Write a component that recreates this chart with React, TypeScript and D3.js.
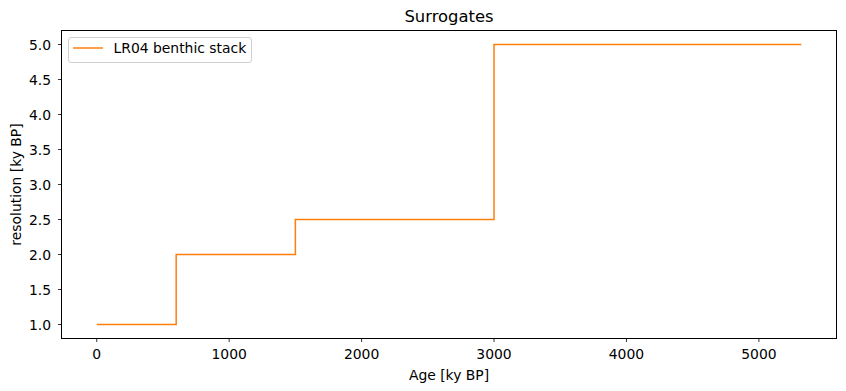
import React from "react";
import * as d3 from "d3";

const stepAges = [0, 600, 1500, 3000, 5320];
const stepResolution = [1.0, 2.0, 2.5, 5.0, 5.0];
const xTicks = [0, 1000, 2000, 3000, 4000, 5000];
const yTicks = [1.0, 1.5, 2.0, 2.5, 3.0, 3.5, 4.0, 4.5, 5.0];
const seriesName = "LR04 benthic stack";
const title = "Surrogates";
const xLabel = "Age [ky BP]";
const yLabel = "resolution [ky BP]";

const W = 846, H = 391;
const L = 61.5, R = 836.5, T = 30.5, B = 338.5;
const FONT = "DejaVu Sans, sans-serif";
const FS = 13.9;

export default function App() {
  const x = d3.scaleLinear().domain([-266, 5586]).range([L, R]);
  const y = d3.scaleLinear().domain([0.8, 5.2]).range([B, T]);
  const pts: [number, number][] = stepAges.map((a, i) => [a, stepResolution[i]]);
  const line = d3.line<[number, number]>().x(d => x(d[0])).y(d => y(d[1])).curve(d3.curveStepAfter);
  return (
    <svg width={W} height={H} style={{ position: "absolute", left: 0, top: 0, background: "#fff" }} fontFamily={FONT}>
      <rect x={0} y={0} width={W} height={H} fill="#fff" />
      <path d={line(pts) || ""} fill="none" stroke="#ff7f0e" strokeWidth={1.5} />
      <rect x={L} y={T} width={R - L} height={B - T} fill="none" stroke="#000" strokeWidth={1} />
      {xTicks.map(t => (
        <g key={"x" + t}>
          <line x1={x(t)} x2={x(t)} y1={B} y2={B + 3.5} stroke="#000" strokeWidth={0.8} />
          <text x={x(t)} y={B + 20.5} fontSize={FS} textAnchor="middle" fill="#000">{t}</text>
        </g>
      ))}
      {yTicks.map(t => (
        <g key={"y" + t}>
          <line x1={L - 3.5} x2={L} y1={y(t)} y2={y(t)} stroke="#000" strokeWidth={0.8} />
          <text x={L - 10.5} y={y(t)} dy="0.36em" fontSize={FS} textAnchor="end" fill="#000">{t.toFixed(1)}</text>
        </g>
      ))}
      <text x={(L + R) / 2} y={21.5} fontSize={16.4} textAnchor="middle" fill="#000">{title}</text>
      <text x={(L + R) / 2} y={379.5} fontSize={FS} textAnchor="middle" fill="#000">{xLabel}</text>
      <text transform={`translate(21,${(T + B) / 2}) rotate(-90)`} fontSize={FS} textAnchor="middle" fill="#000">{yLabel}</text>
      <g>
        <rect x={68.5} y={37.5} width={183} height={25} rx={2.5} fill="#fff" fillOpacity={0.8} stroke="#d0d0d0" strokeWidth={1} />
        <line x1={73} x2={103} y1={48} y2={48} stroke="#ff7f0e" strokeWidth={1.5} />
        <text x={113.5} y={48} dy="0.36em" fontSize={FS} fill="#000">{seriesName}</text>
      </g>
    </svg>
  );
}
